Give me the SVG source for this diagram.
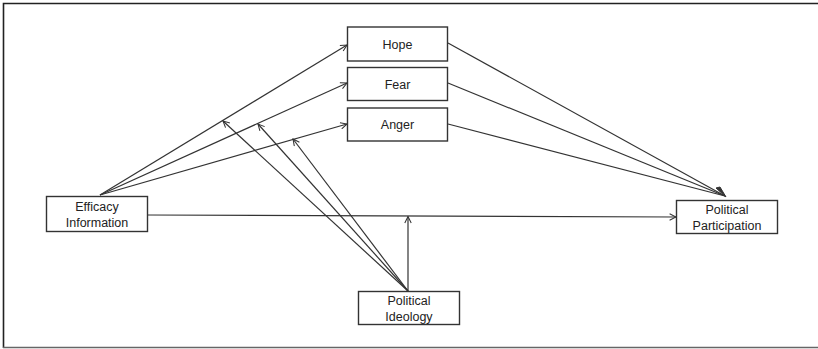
<svg xmlns="http://www.w3.org/2000/svg" width="818" height="349" viewBox="0 0 818 349">
<style>
.box{fill:#fff;stroke:#333;stroke-width:1.4}
.lbl{font-family:"Liberation Sans",Arial,sans-serif;font-size:12.5px;fill:#222;text-anchor:middle}
.edge{fill:none;stroke:#333;stroke-width:1.2}
.arr{marker-end:url(#ah)}
</style>
<defs>
<marker id="ah" viewBox="0 0 10 10" refX="9" refY="5" markerWidth="8" markerHeight="8" markerUnits="userSpaceOnUse" orient="auto">
<path d="M1,1 L9,5 L1,9" fill="none" stroke="#333" stroke-width="1.3"/>
</marker>
</defs>
<rect width="818" height="349" fill="#fff"/>
<path d="M3.5,348 L3.5,3.5 L818,3.5" fill="none" stroke="#222" stroke-width="1.6"/>
<path d="M3,347.5 L818,347.5" fill="none" stroke="#666" stroke-width="1.4"/>
<g id="connectors">
<path class="edge arr" d="M100,195 L347,45"/>
<path class="edge arr" d="M100,195 L347,83"/>
<path class="edge arr" d="M100,195 L347,124"/>
<path class="edge" d="M448,43 L725,196"/>
<path class="edge" d="M448,83 L725,196"/>
<path class="edge" d="M448,124 L725,196"/>
<path d="M716,188 L726,197 L720,187 Z" fill="#333" stroke="#333" stroke-width="1"/>
<path class="edge arr" d="M147,215 L676,217"/>
<path class="edge arr" d="M408,291 L408,216.5"/>
<path class="edge arr" d="M408,291 L223,121"/>
<path class="edge arr" d="M408,291 L258,124"/>
<path class="edge arr" d="M408,291 L293,139"/>
</g>
<g id="hope"><rect class="box" x="347.5" y="27" width="100" height="34"/><text class="lbl" x="397.5" y="48.5">Hope</text></g>
<g id="fear"><rect class="box" x="347.5" y="67.5" width="100" height="33"/><text class="lbl" x="397.5" y="88.5">Fear</text></g>
<g id="anger"><rect class="box" x="347.5" y="108" width="100" height="33"/><text class="lbl" x="397.5" y="129">Anger</text></g>
<g id="efficacy"><rect class="box" x="46.5" y="196.5" width="101" height="35"/><text class="lbl" x="97" y="211">Efficacy</text><text class="lbl" x="97" y="227">Information</text></g>
<g id="participation"><rect class="box" x="676.5" y="200.5" width="101" height="33"/><text class="lbl" x="727" y="214">Political</text><text class="lbl" x="727" y="229.5">Participation</text></g>
<g id="ideology"><rect class="box" x="358.5" y="291.5" width="101" height="33"/><text class="lbl" x="409" y="305">Political</text><text class="lbl" x="409" y="321">Ideology</text></g>
</svg>
